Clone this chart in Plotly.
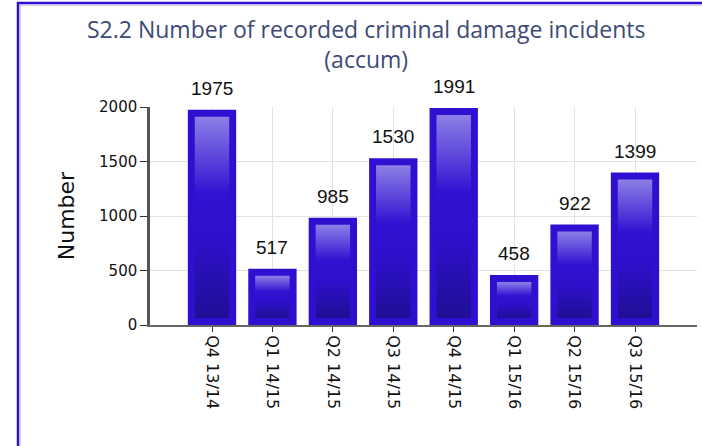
import plotly.graph_objects as go

categories = ["Q4 13/14", "Q1 14/15", "Q2 14/15", "Q3 14/15",
              "Q4 14/15", "Q1 15/16", "Q2 15/16", "Q3 15/16"]
values = [1975, 517, 985, 1530, 1991, 458, 922, 1399]
y_ticks = [0, 500, 1000, 1500, 2000]
title_lines = ["S2.2 Number of recorded criminal damage incidents", "(accum)"]

W, H = 702, 446
L, R, T, B = 150, 5, 107, 121
PW, PH = W - L - R, H - T - B
YMAX = 2000

BAR_W = 0.8
OUTER = "#3010d0"
inset_x = 0.115
inset_y = 7 / PH * YMAX

fig = go.Figure()
fig.add_trace(go.Bar(
    x=list(range(len(categories))), y=values, width=BAR_W,
    marker=dict(color=OUTER, line=dict(width=0)),
    hoverinfo="skip", showlegend=False,
))

grad = [[0.0, "#1f0f95"], [0.4, "#2e10cc"], [0.62, "#3212d2"], [1.0, "#8c80e6"]]
for i, v in enumerate(values):
    x0 = i - BAR_W / 2 + inset_x
    x1 = i + BAR_W / 2 - inset_x
    y0 = inset_y
    y1 = v - inset_y
    fig.add_trace(go.Scatter(
        x=[x0, x1, x1, x0, x0], y=[y0, y0, y1, y1, y0],
        mode="lines", line=dict(width=0), fill="toself",
        fillgradient=dict(type="vertical", colorscale=grad, start=y0, stop=y1),
        hoverinfo="skip", showlegend=False,
    ))

for i, v in enumerate(values):
    fig.add_annotation(x=i, y=v, text=str(v), showarrow=False,
                       yanchor="bottom", yshift=9,
                       font=dict(family="Liberation Sans Narrow, Liberation Sans", size=19, color="#111"))

title_font = dict(family="Open Sans, Noto Sans", size=23, color="#3d4a78")
fig.add_annotation(text="<br>".join(title_lines), xref="paper", yref="paper",
                   x=(366 - L) / PW, y=(H - B - 44) / PH, xanchor="center", yanchor="middle",
                   showarrow=False, font=title_font)

def px_x(p):
    return (p - L) / PW

def px_y(p):
    return (H - B - p) / PH

shapes = [
    dict(type="line", xref="paper", yref="paper", x0=px_x(18), x1=px_x(18),
         y0=px_y(2), y1=px_y(H + 5), line=dict(color=OUTER, width=2.5)),
    dict(type="line", xref="paper", yref="paper", x0=px_x(17), x1=px_x(W + 5),
         y0=px_y(3), y1=px_y(3), line=dict(color=OUTER, width=2.5)),
    dict(type="line", xref="paper", yref="paper", x0=px_x(20), x1=px_x(20),
         y0=px_y(4.5), y1=px_y(H + 5), line=dict(color="#b0a8f0", width=1)),
    dict(type="line", xref="paper", yref="paper", x0=px_x(19.5), x1=px_x(W + 5),
         y0=px_y(5), y1=px_y(5), line=dict(color="#b0a8f0", width=1)),
]

fig.update_layout(
    width=W, height=H,
    margin=dict(l=L, r=R, t=T, b=B, pad=0),
    paper_bgcolor="white", plot_bgcolor="white",
    barmode="overlay",
    shapes=shapes,
    xaxis=dict(
        tickmode="array", tickvals=list(range(len(categories))), ticktext=categories,
        range=[-1.026, 8.026], tickangle=90,
        showgrid=True, gridcolor="#e2e2e2", gridwidth=1,
        showline=True, linecolor="#666666", linewidth=2,
        ticks="outside", ticklen=5, tickcolor="#333", tickwidth=1,
        tickfont=dict(family="DejaVu Sans", size=16, color="#111"),
        zeroline=False, fixedrange=True,
    ),
    yaxis=dict(
        range=[0, YMAX], tickvals=y_ticks,
        showgrid=True, gridcolor="#e2e2e2", gridwidth=1,
        showline=True, linecolor="#555555", linewidth=2.5,
        ticks="outside", ticklen=7, tickcolor="#333", tickwidth=1,
        tickfont=dict(family="DejaVu Sans", size=15, color="#111"),
        title=dict(text="Number", standoff=19,
                   font=dict(family="DejaVu Sans", size=22, color="#111")),
        zeroline=False, fixedrange=True,
    ),
)

fig.write_html("out.html", config={"displayModeBar": False},
               post_script="document.body.style.margin='0';")
